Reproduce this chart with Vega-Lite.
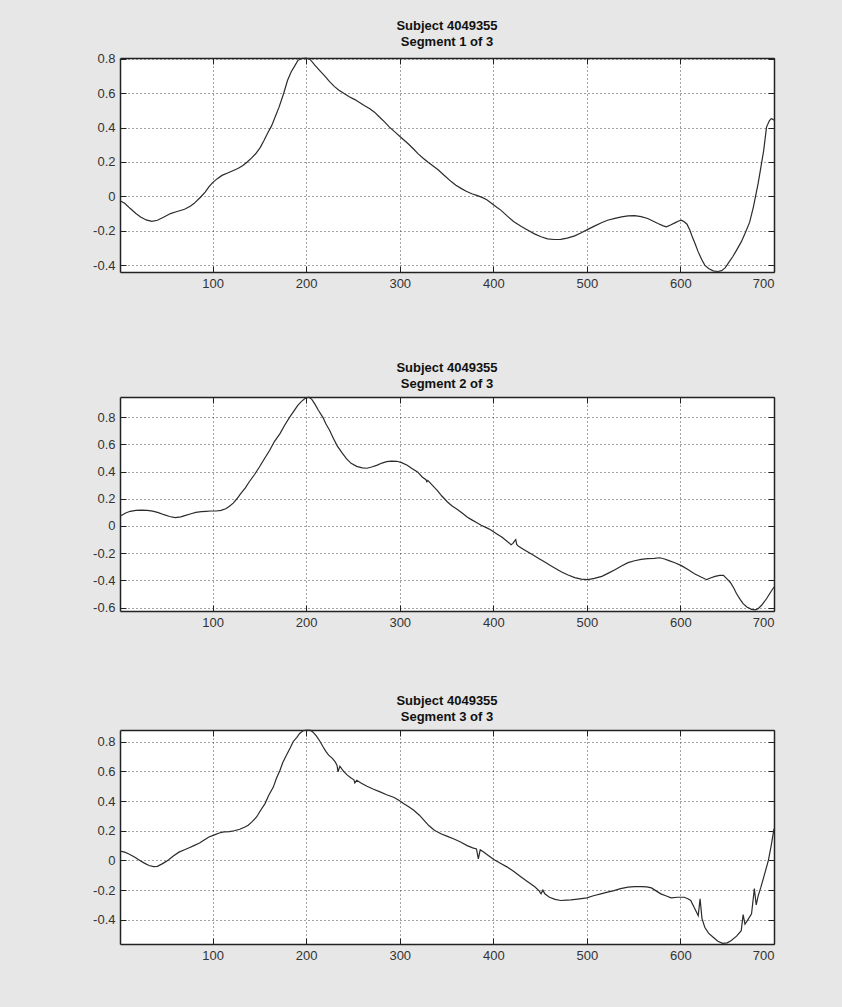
{
 "$schema": "https://vega.github.io/schema/vega-lite/v6.json",
 "background": "#e7e7e7",
 "padding": {"left": 92, "top": 19, "right": 68, "bottom": 45},
 "spacing": 65,
 "config": {
   "view": {"stroke": null, "fill": "white"},
   "font": "Liberation Sans",
   "title": {"fontSize": 13, "fontWeight": "bold", "color": "#111", "offset": 4, "lineHeight": 16, "anchor": "middle", "font": "Liberation Sans"},
   "axis": {"labelFont": "Liberation Sans", "labelFontSize": 13, "labelColor": "#333", "tickSize": -6, "tickColor": "#222", "tickWidth": 1, "domainColor": "#222", "domainWidth": 1.5, "title": null, "labelPadding": 11, "gridColor": "#333", "gridDash": [1, 3], "gridWidth": 1, "gridOpacity": 0.9}
 },
 "datasets": {
  "seg1": [
   {"s":1,"v":-0.025},{"s":6,"v":-0.04},{"s":12,"v":-0.071},{"s":18,"v":-0.1},{"s":23,"v":-0.12},{"s":29,"v":-0.137},{"s":35,"v":-0.145},{"s":41,"v":-0.139},{"s":48,"v":-0.12},{"s":55,"v":-0.1},{"s":62,"v":-0.088},{"s":70,"v":-0.075},{"s":76,"v":-0.058},{"s":80,"v":-0.042},{"s":87,"v":-0.005},{"s":92,"v":0.025},{"s":96,"v":0.055},{"s":100,"v":0.08},{"s":105,"v":0.103},{"s":110,"v":0.122},{"s":116,"v":0.136},{"s":121,"v":0.148},{"s":127,"v":0.162},{"s":132,"v":0.178},{"s":137,"v":0.2},{"s":142,"v":0.225},{"s":146,"v":0.248},{"s":151,"v":0.285},{"s":155,"v":0.326},{"s":159,"v":0.37},{"s":163,"v":0.41},{"s":167,"v":0.465},{"s":171,"v":0.519},{"s":176,"v":0.6},{"s":180,"v":0.674},{"s":184,"v":0.725},{"s":187,"v":0.752},{"s":191,"v":0.79},{"s":195,"v":0.802},{"s":200,"v":0.805},{"s":204,"v":0.798},{"s":209,"v":0.765},{"s":214,"v":0.735},{"s":220,"v":0.7},{"s":225,"v":0.668},{"s":230,"v":0.64},{"s":235,"v":0.618},{"s":241,"v":0.597},{"s":246,"v":0.58},{"s":252,"v":0.563},{"s":257,"v":0.546},{"s":262,"v":0.529},{"s":268,"v":0.51},{"s":273,"v":0.49},{"s":278,"v":0.463},{"s":284,"v":0.432},{"s":289,"v":0.403},{"s":295,"v":0.374},{"s":302,"v":0.34},{"s":309,"v":0.306},{"s":315,"v":0.274},{"s":320,"v":0.246},{"s":325,"v":0.222},{"s":330,"v":0.2},{"s":336,"v":0.175},{"s":341,"v":0.155},{"s":348,"v":0.12},{"s":355,"v":0.086},{"s":360,"v":0.065},{"s":366,"v":0.045},{"s":371,"v":0.03},{"s":377,"v":0.015},{"s":383,"v":0.004},{"s":388,"v":-0.006},{"s":393,"v":-0.02},{"s":398,"v":-0.04},{"s":404,"v":-0.065},{"s":408,"v":-0.08},{"s":415,"v":-0.115},{"s":422,"v":-0.148},{"s":430,"v":-0.175},{"s":437,"v":-0.197},{"s":444,"v":-0.218},{"s":451,"v":-0.235},{"s":458,"v":-0.247},{"s":465,"v":-0.251},{"s":472,"v":-0.25},{"s":479,"v":-0.243},{"s":487,"v":-0.23},{"s":494,"v":-0.212},{"s":501,"v":-0.192},{"s":508,"v":-0.173},{"s":515,"v":-0.155},{"s":522,"v":-0.139},{"s":530,"v":-0.128},{"s":537,"v":-0.119},{"s":544,"v":-0.114},{"s":551,"v":-0.112},{"s":558,"v":-0.118},{"s":565,"v":-0.129},{"s":571,"v":-0.145},{"s":576,"v":-0.158},{"s":581,"v":-0.17},{"s":585,"v":-0.177},{"s":590,"v":-0.165},{"s":594,"v":-0.154},{"s":598,"v":-0.143},{"s":601,"v":-0.139},{"s":604,"v":-0.148},{"s":607,"v":-0.162},{"s":610,"v":-0.195},{"s":612,"v":-0.226},{"s":616,"v":-0.28},{"s":619,"v":-0.323},{"s":623,"v":-0.37},{"s":626,"v":-0.4},{"s":630,"v":-0.42},{"s":635,"v":-0.433},{"s":640,"v":-0.437},{"s":644,"v":-0.432},{"s":648,"v":-0.415},{"s":651,"v":-0.39},{"s":656,"v":-0.35},{"s":660,"v":-0.313},{"s":665,"v":-0.265},{"s":669,"v":-0.216},{"s":674,"v":-0.15},{"s":678,"v":-0.061},{"s":681,"v":0.02},{"s":683,"v":0.074},{"s":686,"v":0.17},{"s":689,"v":0.268},{"s":692,"v":0.403},{"s":695,"v":0.44},{"s":697,"v":0.452},{"s":699,"v":0.448},{"s":700,"v":0.442}
  ],
  "seg2": [
   {"s":1,"v":0.071},{"s":7,"v":0.095},{"s":12,"v":0.108},{"s":18,"v":0.115},{"s":24,"v":0.117},{"s":30,"v":0.114},{"s":36,"v":0.109},{"s":42,"v":0.098},{"s":48,"v":0.083},{"s":54,"v":0.07},{"s":60,"v":0.061},{"s":66,"v":0.067},{"s":71,"v":0.078},{"s":77,"v":0.09},{"s":82,"v":0.1},{"s":88,"v":0.105},{"s":93,"v":0.108},{"s":98,"v":0.11},{"s":104,"v":0.11},{"s":109,"v":0.115},{"s":114,"v":0.127},{"s":118,"v":0.145},{"s":122,"v":0.168},{"s":126,"v":0.2},{"s":130,"v":0.237},{"s":135,"v":0.28},{"s":139,"v":0.323},{"s":145,"v":0.38},{"s":150,"v":0.433},{"s":155,"v":0.49},{"s":161,"v":0.556},{"s":166,"v":0.62},{"s":172,"v":0.678},{"s":177,"v":0.74},{"s":182,"v":0.796},{"s":187,"v":0.845},{"s":191,"v":0.886},{"s":195,"v":0.915},{"s":199,"v":0.937},{"s":203,"v":0.945},{"s":206,"v":0.93},{"s":209,"v":0.898},{"s":213,"v":0.85},{"s":218,"v":0.796},{"s":221,"v":0.75},{"s":225,"v":0.703},{"s":229,"v":0.645},{"s":233,"v":0.59},{"s":238,"v":0.54},{"s":243,"v":0.494},{"s":248,"v":0.46},{"s":254,"v":0.438},{"s":260,"v":0.427},{"s":265,"v":0.424},{"s":270,"v":0.433},{"s":276,"v":0.447},{"s":281,"v":0.462},{"s":286,"v":0.472},{"s":291,"v":0.476},{"s":297,"v":0.475},{"s":302,"v":0.465},{"s":308,"v":0.446},{"s":313,"v":0.422},{"s":319,"v":0.397},{"s":324,"v":0.36},{"s":328,"v":0.34},{"s":329,"v":0.325},{"s":330,"v":0.335},{"s":335,"v":0.298},{"s":340,"v":0.262},{"s":345,"v":0.22},{"s":351,"v":0.176},{"s":356,"v":0.147},{"s":362,"v":0.12},{"s":367,"v":0.094},{"s":372,"v":0.066},{"s":377,"v":0.045},{"s":382,"v":0.025},{"s":387,"v":0.005},{"s":392,"v":-0.01},{"s":397,"v":-0.028},{"s":403,"v":-0.055},{"s":409,"v":-0.081},{"s":414,"v":-0.108},{"s":419,"v":-0.137},{"s":421,"v":-0.128},{"s":422,"v":-0.117},{"s":424,"v":-0.1},{"s":425,"v":-0.135},{"s":427,"v":-0.149},{"s":432,"v":-0.17},{"s":437,"v":-0.191},{"s":443,"v":-0.215},{"s":449,"v":-0.24},{"s":455,"v":-0.264},{"s":461,"v":-0.29},{"s":467,"v":-0.314},{"s":473,"v":-0.338},{"s":480,"v":-0.36},{"s":487,"v":-0.379},{"s":494,"v":-0.39},{"s":501,"v":-0.394},{"s":508,"v":-0.385},{"s":516,"v":-0.37},{"s":523,"v":-0.346},{"s":530,"v":-0.321},{"s":537,"v":-0.294},{"s":544,"v":-0.269},{"s":551,"v":-0.255},{"s":558,"v":-0.245},{"s":565,"v":-0.24},{"s":572,"v":-0.237},{"s":578,"v":-0.233},{"s":583,"v":-0.242},{"s":587,"v":-0.252},{"s":594,"v":-0.27},{"s":601,"v":-0.291},{"s":608,"v":-0.32},{"s":615,"v":-0.35},{"s":622,"v":-0.375},{"s":628,"v":-0.394},{"s":632,"v":-0.382},{"s":637,"v":-0.37},{"s":642,"v":-0.362},{"s":646,"v":-0.362},{"s":650,"v":-0.39},{"s":653,"v":-0.411},{"s":657,"v":-0.455},{"s":660,"v":-0.497},{"s":664,"v":-0.54},{"s":667,"v":-0.57},{"s":671,"v":-0.595},{"s":676,"v":-0.612},{"s":680,"v":-0.615},{"s":683,"v":-0.607},{"s":687,"v":-0.58},{"s":692,"v":-0.534},{"s":696,"v":-0.49},{"s":700,"v":-0.448}
  ],
  "seg3": [
   {"s":1,"v":0.063},{"s":6,"v":0.056},{"s":10,"v":0.045},{"s":16,"v":0.025},{"s":21,"v":0.005},{"s":27,"v":-0.018},{"s":32,"v":-0.034},{"s":37,"v":-0.041},{"s":41,"v":-0.04},{"s":46,"v":-0.023},{"s":50,"v":-0.008},{"s":53,"v":0.005},{"s":58,"v":0.03},{"s":64,"v":0.056},{"s":70,"v":0.072},{"s":75,"v":0.086},{"s":80,"v":0.1},{"s":86,"v":0.117},{"s":91,"v":0.138},{"s":96,"v":0.158},{"s":102,"v":0.172},{"s":107,"v":0.185},{"s":112,"v":0.192},{"s":118,"v":0.194},{"s":123,"v":0.2},{"s":129,"v":0.21},{"s":134,"v":0.224},{"s":138,"v":0.237},{"s":142,"v":0.26},{"s":147,"v":0.293},{"s":151,"v":0.335},{"s":156,"v":0.383},{"s":160,"v":0.44},{"s":165,"v":0.496},{"s":168,"v":0.55},{"s":172,"v":0.608},{"s":175,"v":0.66},{"s":179,"v":0.71},{"s":183,"v":0.76},{"s":186,"v":0.8},{"s":190,"v":0.83},{"s":193,"v":0.856},{"s":197,"v":0.875},{"s":201,"v":0.879},{"s":205,"v":0.876},{"s":208,"v":0.86},{"s":211,"v":0.838},{"s":215,"v":0.8},{"s":218,"v":0.766},{"s":221,"v":0.735},{"s":224,"v":0.71},{"s":228,"v":0.688},{"s":231,"v":0.665},{"s":233,"v":0.64},{"s":234,"v":0.597},{"s":236,"v":0.635},{"s":240,"v":0.6},{"s":244,"v":0.575},{"s":248,"v":0.556},{"s":251,"v":0.543},{"s":252,"v":0.523},{"s":254,"v":0.54},{"s":259,"v":0.52},{"s":265,"v":0.5},{"s":272,"v":0.48},{"s":279,"v":0.462},{"s":286,"v":0.443},{"s":294,"v":0.424},{"s":299,"v":0.405},{"s":304,"v":0.383},{"s":310,"v":0.36},{"s":315,"v":0.338},{"s":321,"v":0.305},{"s":326,"v":0.27},{"s":331,"v":0.235},{"s":337,"v":0.203},{"s":344,"v":0.18},{"s":351,"v":0.162},{"s":358,"v":0.145},{"s":365,"v":0.124},{"s":372,"v":0.1},{"s":378,"v":0.085},{"s":382,"v":0.078},{"s":384,"v":0.011},{"s":386,"v":0.072},{"s":390,"v":0.055},{"s":395,"v":0.032},{"s":401,"v":0.005},{"s":408,"v":-0.02},{"s":415,"v":-0.045},{"s":422,"v":-0.075},{"s":429,"v":-0.108},{"s":436,"v":-0.14},{"s":444,"v":-0.176},{"s":449,"v":-0.205},{"s":451,"v":-0.225},{"s":453,"v":-0.2},{"s":455,"v":-0.225},{"s":460,"v":-0.248},{"s":466,"v":-0.262},{"s":472,"v":-0.27},{"s":478,"v":-0.268},{"s":483,"v":-0.266},{"s":490,"v":-0.26},{"s":500,"v":-0.252},{"s":507,"v":-0.238},{"s":515,"v":-0.225},{"s":522,"v":-0.214},{"s":529,"v":-0.203},{"s":536,"v":-0.19},{"s":544,"v":-0.18},{"s":551,"v":-0.177},{"s":558,"v":-0.176},{"s":564,"v":-0.178},{"s":569,"v":-0.185},{"s":574,"v":-0.205},{"s":579,"v":-0.225},{"s":585,"v":-0.24},{"s":590,"v":-0.252},{"s":597,"v":-0.248},{"s":604,"v":-0.248},{"s":608,"v":-0.258},{"s":611,"v":-0.27},{"s":615,"v":-0.32},{"s":619,"v":-0.372},{"s":621,"v":-0.259},{"s":623,"v":-0.39},{"s":626,"v":-0.45},{"s":630,"v":-0.49},{"s":635,"v":-0.518},{"s":640,"v":-0.545},{"s":645,"v":-0.559},{"s":650,"v":-0.555},{"s":654,"v":-0.541},{"s":660,"v":-0.51},{"s":665,"v":-0.473},{"s":667,"v":-0.365},{"s":669,"v":-0.43},{"s":672,"v":-0.4},{"s":676,"v":-0.36},{"s":679,"v":-0.19},{"s":681,"v":-0.3},{"s":683,"v":-0.24},{"s":686,"v":-0.18},{"s":690,"v":-0.09},{"s":694,"v":0.0},{"s":697,"v":0.1},{"s":700,"v":0.214}
  ]
 },
 "vconcat": [
  {
   "spacing": 71,
   "vconcat": [
    {
     "title": {"text": ["Subject 4049355", "Segment 1 of 3"]},
     "width": 654, "height": 214,
     "data": {"name": "seg1"},
     "layer": [
      {"mark": {"type": "line", "color": "#2b2b2b", "strokeWidth": 1.2},
       "encoding": {
        "x": {"field": "s", "type": "quantitative", "scale": {"domain": [1, 700], "nice": false, "zero": false}, "axis": {"orient": "bottom", "values": [100, 200, 300, 400, 500, 600, 700], "grid": true}},
        "y": {"field": "v", "type": "quantitative", "scale": {"domain": [-0.44, 0.805], "nice": false, "zero": false}, "axis": {"orient": "left", "values": [-0.4, -0.2, 0, 0.2, 0.4, 0.6, 0.8], "grid": true, "labelExpr": "'' + datum.value"}}
       }},
      {"mark": {"type": "line", "opacity": 0},
       "encoding": {
        "x": {"field": "s", "type": "quantitative", "axis": {"orient": "top", "values": [100, 200, 300, 400, 500, 600, 700], "labels": false, "grid": false}},
        "y": {"field": "v", "type": "quantitative", "axis": {"orient": "right", "values": [-0.4, -0.2, 0, 0.2, 0.4, 0.6, 0.8], "labels": false, "grid": false}}
       }}
     ],
     "resolve": {"axis": {"x": "independent", "y": "independent"}}
    },
    {
     "title": {"text": ["Subject 4049355", "Segment 2 of 3"]},
     "width": 654, "height": 214,
     "data": {"name": "seg2"},
     "layer": [
      {"mark": {"type": "line", "color": "#2b2b2b", "strokeWidth": 1.2},
       "encoding": {
        "x": {"field": "s", "type": "quantitative", "scale": {"domain": [1, 700], "nice": false, "zero": false}, "axis": {"orient": "bottom", "values": [100, 200, 300, 400, 500, 600, 700], "grid": true}},
        "y": {"field": "v", "type": "quantitative", "scale": {"domain": [-0.624, 0.947], "nice": false, "zero": false}, "axis": {"orient": "left", "values": [-0.6, -0.4, -0.2, 0, 0.2, 0.4, 0.6, 0.8], "grid": true, "labelExpr": "'' + datum.value"}}
       }},
      {"mark": {"type": "line", "opacity": 0},
       "encoding": {
        "x": {"field": "s", "type": "quantitative", "axis": {"orient": "top", "values": [100, 200, 300, 400, 500, 600, 700], "labels": false, "grid": false}},
        "y": {"field": "v", "type": "quantitative", "axis": {"orient": "right", "values": [-0.6, -0.4, -0.2, 0, 0.2, 0.4, 0.6, 0.8], "labels": false, "grid": false}}
       }}
     ],
     "resolve": {"axis": {"x": "independent", "y": "independent"}}
    }
   ]
  },
  {
   "title": {"text": ["Subject 4049355", "Segment 3 of 3"]},
   "width": 654, "height": 214,
   "data": {"name": "seg3"},
   "layer": [
    {"mark": {"type": "line", "color": "#2b2b2b", "strokeWidth": 1.2},
     "encoding": {
      "x": {"field": "s", "type": "quantitative", "scale": {"domain": [1, 700], "nice": false, "zero": false}, "axis": {"orient": "bottom", "values": [100, 200, 300, 400, 500, 600, 700], "grid": true}},
      "y": {"field": "v", "type": "quantitative", "scale": {"domain": [-0.563, 0.879], "nice": false, "zero": false}, "axis": {"orient": "left", "values": [-0.4, -0.2, 0, 0.2, 0.4, 0.6, 0.8], "grid": true, "labelExpr": "'' + datum.value"}}
     }},
    {"mark": {"type": "line", "opacity": 0},
     "encoding": {
      "x": {"field": "s", "type": "quantitative", "axis": {"orient": "top", "values": [100, 200, 300, 400, 500, 600, 700], "labels": false, "grid": false}},
      "y": {"field": "v", "type": "quantitative", "axis": {"orient": "right", "values": [-0.4, -0.2, 0, 0.2, 0.4, 0.6, 0.8], "labels": false, "grid": false}}
     }}
   ],
   "resolve": {"axis": {"x": "independent", "y": "independent"}}
  }
 ]
}
